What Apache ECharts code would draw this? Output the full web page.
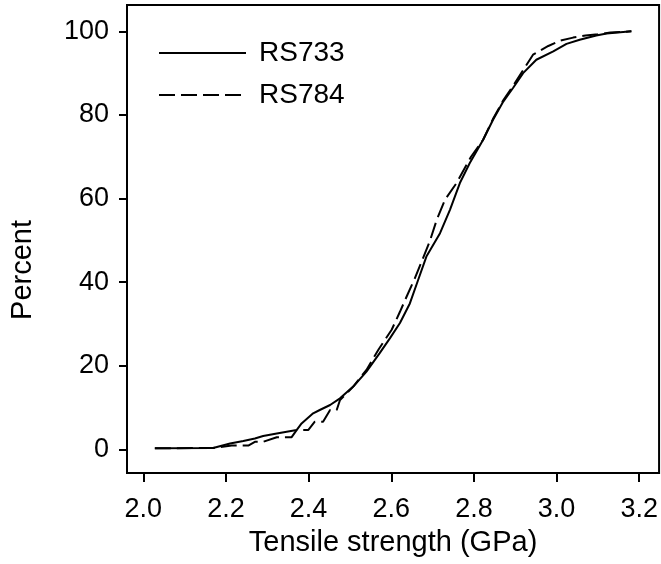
<!DOCTYPE html>
<html>
<head>
<meta charset="utf-8">
<script src="https://cdn.jsdelivr.net/npm/echarts@6/dist/echarts.min.js"></script>
<style>
html,body{margin:0;padding:0;background:#fff;}
#chart{width:661px;height:564px;}
</style>
</head>
<body>
<div id="chart"></div>
<script>
// Tensile strength (GPa) and cumulative percent
var rs733X = [2.028, 2.169, 2.173, 2.210, 2.242, 2.270, 2.290, 2.323, 2.347, 2.371, 2.383, 2.411, 2.427, 2.452, 2.476, 2.508, 2.540, 2.572, 2.597, 2.621, 2.645, 2.665, 2.685, 2.718, 2.742, 2.766, 2.790, 2.822, 2.846, 2.871, 2.895, 2.919, 2.951, 2.992, 3.024, 3.056, 3.096, 3.121, 3.181];
var rs733Y = [0.25, 0.3, 0.6, 1.4, 2.0, 2.6, 3.2, 3.8, 4.2, 4.6, 6.2, 8.6, 9.4, 10.6, 12.2, 15.0, 18.6, 23.0, 26.6, 30.2, 34.9, 40.5, 46.1, 51.7, 57.3, 63.7, 68.5, 74.0, 78.8, 83.2, 86.5, 90.0, 93.2, 95.2, 97.0, 98.0, 99.0, 99.5, 100];

var rs784X = [2.028, 2.169, 2.214, 2.254, 2.270, 2.290, 2.323, 2.359, 2.371, 2.399, 2.415, 2.435, 2.452, 2.468, 2.476, 2.508, 2.540, 2.570, 2.601, 2.621, 2.637, 2.657, 2.675, 2.693, 2.710, 2.730, 2.758, 2.793, 2.822, 2.846, 2.871, 2.895, 2.943, 2.980, 3.010, 3.040, 3.070, 3.100, 3.130, 3.181];
var rs784Y = [0.25, 0.3, 0.9, 0.9, 1.8, 1.8, 2.9, 2.9, 4.6, 4.6, 6.6, 6.6, 9.4, 9.4, 11.8, 15.0, 19.0, 24.0, 28.6, 32.9, 36.5, 40.9, 45.3, 49.7, 54.9, 59.7, 63.7, 70.0, 74.0, 79.0, 83.5, 87.0, 94.4, 96.5, 97.8, 98.5, 99.0, 99.3, 99.7, 100];

var xTicks = [2.0, 2.2, 2.4, 2.6, 2.8, 3.0, 3.2];
var yTicks = [0, 20, 40, 60, 80, 100];

var seriesNames = ['RS733', 'RS784'];
var xTitle = 'Tensile strength (GPa)';
var yTitle = 'Percent';

function pairs(xs, ys) {
  return xs.map(function (x, i) { return [x, ys[i]]; });
}

var FONT = '"Liberation Sans", Arial, sans-serif';
var chart = echarts.init(document.getElementById('chart'), null, {renderer: 'canvas'});
chart.setOption({
  animation: false,
  backgroundColor: '#fff',
  grid: {
    left: 127, top: 5, right: 1, bottom: 91,
    show: true, borderColor: '#000', borderWidth: 2, backgroundColor: 'transparent'
  },
  legend: {
    orient: 'vertical',
    left: 153, top: 34,
    itemWidth: 87, itemHeight: 28, itemGap: 14,
    itemStyle: {opacity: 0},
    textStyle: {fontFamily: FONT, fontSize: 28, color: '#000', padding: [0, 0, 0, 8]},
    data: seriesNames
  },
  xAxis: {
    type: 'value',
    min: 1.9606, max: 3.248,
    axisLine: {show: false, onZero: false},
    splitLine: {show: false},
    axisTick: {show: true, inside: false, length: 9, lineStyle: {color: '#000', width: 2}, customValues: xTicks},
    axisLabel: {
      customValues: xTicks,
      margin: 23,
      fontFamily: FONT, fontSize: 27, color: '#000',
      formatter: function (v) { return v.toFixed(1); }
    },
    name: xTitle,
    nameLocation: 'middle',
    nameGap: 55,
    nameTextStyle: {fontFamily: FONT, fontSize: 29, color: '#000'}
  },
  yAxis: {
    type: 'value',
    min: -5.67, max: 106.3,
    axisLine: {show: false, onZero: false},
    splitLine: {show: false},
    axisTick: {show: true, inside: false, length: 8, lineStyle: {color: '#000', width: 2}, customValues: yTicks},
    axisLabel: {
      customValues: yTicks,
      margin: 18,
      fontFamily: FONT, fontSize: 27, color: '#000',
      formatter: function (v) { return String(v); }
    }
  },
  graphic: [{
    type: 'text',
    left: 8,
    top: 220,
    rotation: Math.PI / 2,
    style: {text: yTitle, font: '29px ' + FONT, fill: '#000'}
  }],
  series: [
    {
      name: seriesNames[0], type: 'line', data: pairs(rs733X, rs733Y),
      symbol: 'none', showSymbol: false,
      lineStyle: {color: '#000', width: 2, type: 'solid'},
      itemStyle: {color: '#000'}
    },
    {
      name: seriesNames[1], type: 'line', data: pairs(rs784X, rs784Y),
      symbol: 'none', showSymbol: false,
      lineStyle: {color: '#000', width: 2, type: [16, 6]},
      itemStyle: {color: '#000'}
    }
  ]
});
</script>
</body>
</html>
